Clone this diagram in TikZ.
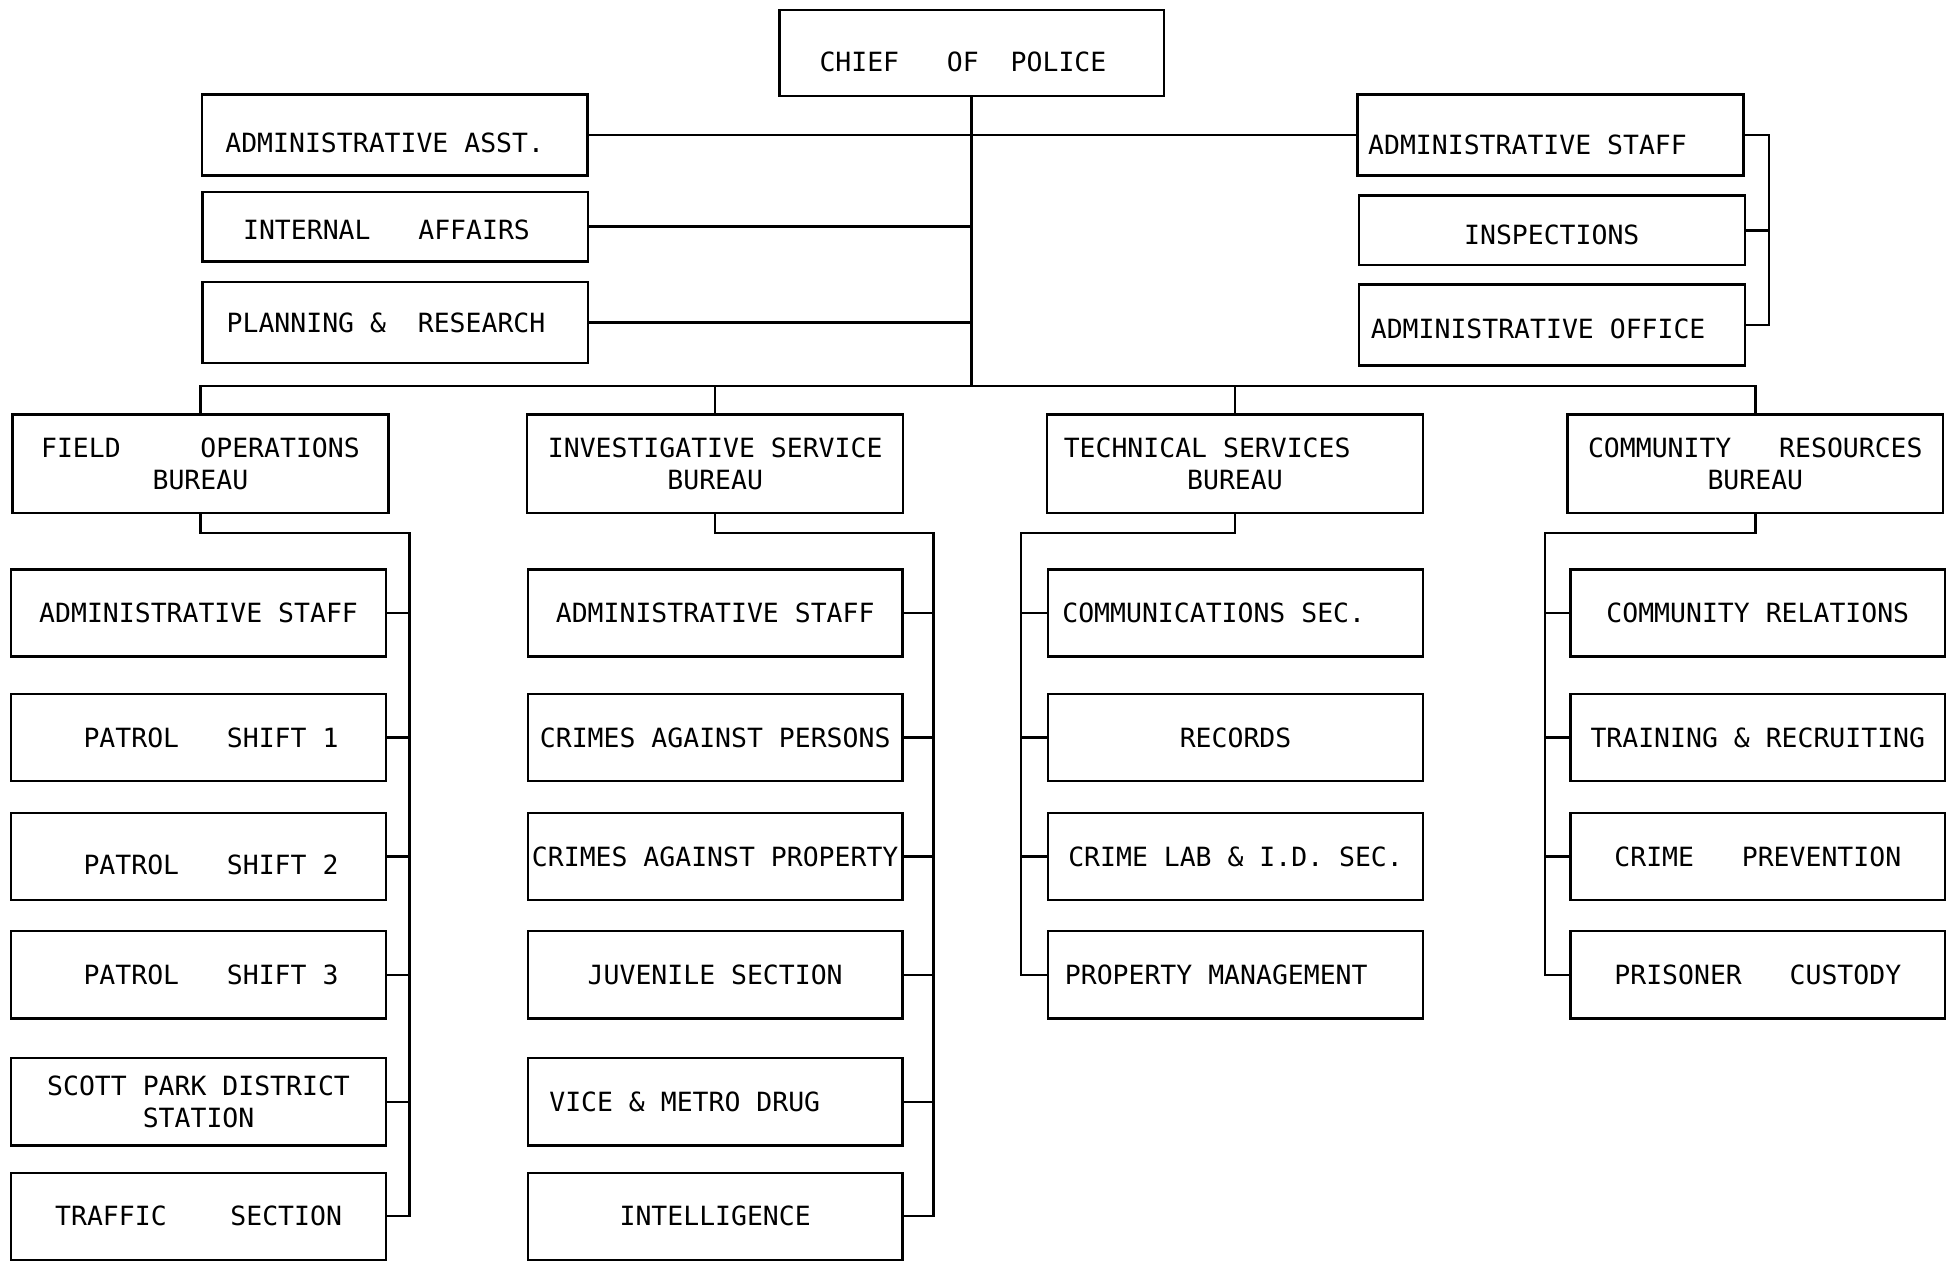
\documentclass[tikz,border=0pt]{standalone}
\usepackage{fontspec}
\newfontfamily\orgfont{DejaVu Sans Mono}
\usepackage{tikz}

\begin{document}
\begin{tikzpicture}[x=0.02cm,y=-0.02cm,
  box/.style={draw,line width=1.1pt,inner sep=1pt,font=\orgfont\fontsize{12.1}{14.8}\selectfont},
  staff/.style={box,minimum width=6.2cm,minimum height=1.3cm},
  bureau/.style={box,align=center,minimum width=6.04cm,minimum height=1.58cm},
  unit/.style={box,minimum width=6.02cm,minimum height=1.4cm},
  link/.style={line width=1.1pt},
  nudge/.style={execute at begin node={\hspace*{#1}}},
  drop/.style={text height=#1}]

  \fill[white] (0,0) rectangle (1568,1016);
  \useasboundingbox (0,0) rectangle (1568,1016);

  % top of the chart
  \node[box,minimum width=6.18cm,minimum height=1.38cm,nudge=-0.66em,drop=17.3pt] (chief) at (780.5,42.5) {CHIEF~~~OF~~POLICE};

  \node[staff,nudge=-0.75em,drop=16.2pt] (asst) at (317,108.5) {ADMINISTRATIVE ASST.};
  \node[staff,minimum height=1.12cm,nudge=-0.66em,drop=12.2pt] (ia) at (317.5,182) {INTERNAL~~~AFFAIRS};
  \node[staff,nudge=-0.7em] (pr) at (317.5,259) {PLANNING \&~~RESEARCH};

  \node[staff,nudge=-1.74em,drop=17.9pt] (rstaff) at (1245.5,108.5) {ADMINISTRATIVE STAFF};
  \node[staff,minimum height=1.12cm,drop=13.4pt] (insp) at (1246.5,185) {INSPECTIONS};
  \node[staff,nudge=-1.03em,drop=12.2pt] (roff) at (1246.5,261) {ADMINISTRATIVE OFFICE};

  % bureaus
  \node[bureau] (fob) at (161,372.5) {FIELD~~~~~OPERATIONS\\BUREAU};
  \node[bureau] (isb) at (574.5,372.5) {INVESTIGATIVE SERVICE\\BUREAU};
  \node[bureau] (tsb) at (992,372.5) {TECHNICAL SERVICES\hspace*{2.1em}\\BUREAU};
  \node[bureau] (crb) at (1410,372.5) {COMMUNITY~~~RESOURCES\\BUREAU};

  % field operations
  \node[unit] (fas) at (159.5,492.5) {ADMINISTRATIVE STAFF};
  \node[unit,nudge=0.94em] (ps1) at (159.5,592.5) {PATROL~~~SHIFT 1};
  \node[unit,nudge=0.94em,drop=16.8pt] (ps2) at (159.5,688) {PATROL~~~SHIFT 2};
  \node[unit,nudge=0.94em] (ps3) at (159.5,783) {PATROL~~~SHIFT 3};
  \node[unit,align=center] (spd) at (159.5,885) {SCOTT PARK DISTRICT\\STATION};
  \node[unit] (trf) at (159.5,977) {TRAFFIC~~~~SECTION};

  % investigative service
  \node[unit] (ias) at (574.5,492.5) {ADMINISTRATIVE STAFF};
  \node[unit] (cap) at (574.5,592.5) {CRIMES AGAINST PERSONS};
  \node[unit] (cpr) at (574.5,688) {CRIMES AGAINST PROPERTY};
  \node[unit] (juv) at (574.5,783) {JUVENILE SECTION};
  \node[unit,nudge=-2.3em] (vmd) at (574.5,885) {VICE \& METRO DRUG};
  \node[unit] (intel) at (574.5,977) {INTELLIGENCE};

  % technical services
  \node[unit,nudge=-1.65em] (cs) at (992.5,492.5) {COMMUNICATIONS SEC.};
  \node[unit] (rec) at (992.5,592.5) {RECORDS};
  \node[unit] (cl) at (992.5,688) {CRIME LAB \& I.D. SEC.};
  \node[unit,nudge=-1.46em] (pm) at (992.5,783) {PROPERTY MANAGEMENT};

  % community resources
  \node[unit] (cr) at (1412,492.5) {COMMUNITY RELATIONS};
  \node[unit] (trn) at (1412,592.5) {TRAINING \& RECRUITING};
  \node[unit] (cp) at (1412,688) {CRIME~~~PREVENTION};
  \node[unit] (pc) at (1412,783) {PRISONER~~~CUSTODY};

  \coordinate (bus) at (780,310);
  \coordinate (rbr) at (1421,108.5);
  \coordinate (fosp) at (329,428);
  \coordinate (issp) at (750,428);
  \coordinate (tssp) at (820,428);
  \coordinate (crsp) at (1241,428);

  \draw[link] (chief) -- (chief |- bus);
  \draw[link] (asst) -- (rstaff);
  \draw[link] (ia) -- (ia -| bus) (pr) -- (pr -| bus);
  \draw[link] (rstaff) -| (rbr |- roff) -- (roff);
  \draw[link] (insp) -- (insp -| rbr);

  \draw[link] (fob) |- (bus) -| (crb);
  \draw[link] (isb) -- (isb |- bus) (tsb) -- (tsb |- bus);

  \draw[link] (fob) |- (fosp) |- (trf);
  \foreach \u in {fas,ps1,ps2,ps3,spd}
    \draw[link] (\u) -- (\u -| fosp);

  \draw[link] (isb) |- (issp) |- (intel);
  \foreach \u in {ias,cap,cpr,juv,vmd}
    \draw[link] (\u) -- (\u -| issp);

  \draw[link] (tsb) |- (tssp) |- (pm);
  \foreach \u in {cs,rec,cl}
    \draw[link] (\u) -- (\u -| tssp);

  \draw[link] (crb) |- (crsp) |- (pc);
  \foreach \u in {cr,trn,cp}
    \draw[link] (\u) -- (\u -| crsp);

\end{tikzpicture}
\end{document}
